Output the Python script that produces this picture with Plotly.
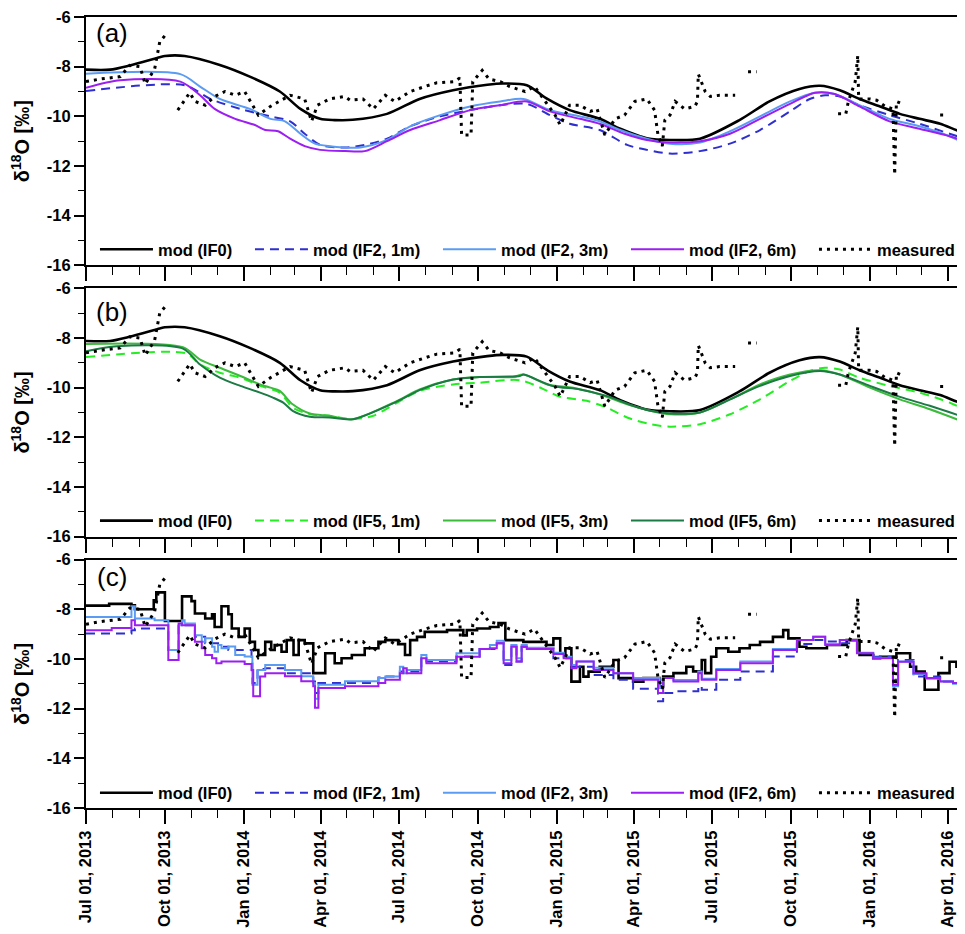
import pandas as pd
import plotly.graph_objects as go

START = "2013-07-01"
X_RANGE = ["2013-07-01", "2016-04-21"]

# ---------------- data: days since 2013-07-01, delta18O [permil] ----------------
# mod (IF0), smooth (panels a, b)
if0_days = [0, 28, 51, 86, 92, 115, 156, 191, 226, 250, 273, 290, 311, 351, 389, 428, 468, 486, 514,
            538, 564, 599, 623, 646, 654, 681, 716, 762, 797, 832, 856, 879, 902, 926, 949, 972, 996, 1019, 1025]
if0_vals = [-8.12, -8.12, -7.95, -7.62, -7.57, -7.57, -7.93, -8.4, -9.0, -9.7, -10.1, -10.15, -10.14, -9.9,
            -9.3, -8.95, -8.73, -8.68, -8.75, -9.3, -9.75, -10.1, -10.5, -10.8, -10.88, -10.95, -10.9, -10.15,
            -9.4, -8.9, -8.77, -8.95, -9.3, -9.6, -9.9, -10.1, -10.3, -10.6, -10.62]

# panel (a): IF2 runs
if2_1m_days = [0, 115, 145, 180, 215, 238, 255, 273, 302, 325, 351, 378, 413, 448, 483, 514, 541, 564, 599,
               631, 654, 681, 716, 751, 786, 821, 844, 862, 879, 902, 937, 972, 1007, 1025]
if2_1m_vals = [-8.98, -8.75, -9.3, -9.7, -10.0, -10.2, -10.7, -11.15, -11.25, -11.15, -10.9, -10.4, -10.0,
               -9.75, -9.55, -9.5, -9.95, -10.3, -10.55, -11.15, -11.35, -11.5, -11.4, -11.1, -10.55, -9.8,
               -9.3, -9.15, -9.2, -9.55, -9.95, -10.3, -10.7, -10.9]
if2_3m_days = [0, 110, 133, 156, 191, 215, 232, 250, 267, 284, 320, 351, 378, 413, 448, 483, 510, 541, 576,
               599, 623, 654, 681, 716, 751, 786, 821, 850, 873, 902, 937, 972, 1007, 1025]
if2_3m_vals = [-8.28, -8.3, -8.8, -9.3, -9.7, -10.1, -10.2, -10.7, -11.1, -11.2, -11.25, -10.95, -10.4, -9.95,
               -9.6, -9.4, -9.3, -9.75, -10.0, -10.2, -10.55, -10.9, -11.1, -11.05, -10.6, -10.0, -9.4, -9.05,
               -9.1, -9.55, -10.1, -10.4, -10.8, -11.1]
if2_6m_days = [0, 40, 110, 133, 150, 174, 197, 209, 224, 238, 255, 273, 302, 325, 351, 378, 413, 448, 483,
               514, 541, 576, 599, 628, 654, 681, 716, 751, 786, 821, 850, 873, 902, 937, 972, 1007, 1025]
if2_6m_vals = [-8.85, -8.55, -8.6, -9.15, -9.7, -10.1, -10.35, -10.55, -10.6, -10.9, -11.2, -11.35, -11.4,
               -11.4, -11.0, -10.55, -10.15, -9.75, -9.55, -9.4, -9.8, -10.1, -10.3, -10.7, -10.95, -11.05,
               -11.0, -10.7, -10.1, -9.5, -9.05, -9.1, -9.6, -10.2, -10.5, -10.8, -11.0]

# panel (b): IF5 runs
if5_1m_days = [0, 117, 133, 156, 180, 203, 226, 241, 261, 284, 311, 335, 363, 389, 428, 459, 506, 538, 553,
               584, 607, 631, 658, 681, 716, 751, 786, 821, 844, 862, 879, 902, 937, 972, 1007, 1025]
if5_1m_vals = [-8.77, -8.62, -9.07, -9.4, -9.6, -9.93, -10.2, -10.8, -11.07, -11.13, -11.27, -11.13, -10.6,
               -10.13, -9.87, -9.8, -9.7, -10.13, -10.37, -10.53, -10.8, -11.2, -11.47, -11.57, -11.47, -11.07,
               -10.47, -9.73, -9.33, -9.2, -9.27, -9.6, -9.93, -10.2, -10.6, -10.9]
if5_3m_days = [0, 113, 133, 156, 180, 203, 215, 226, 241, 261, 284, 311, 363, 389, 428, 459, 498, 510, 538,
               568, 599, 631, 658, 681, 716, 751, 786, 821, 856, 879, 914, 949, 984, 1025]
if5_3m_vals = [-8.24, -8.37, -8.87, -9.2, -9.53, -9.87, -10.0, -10.13, -10.67, -11.04, -11.13, -11.27, -10.53,
               -10.07, -9.67, -9.57, -9.57, -9.47, -9.87, -10.0, -10.27, -10.67, -10.93, -11.07, -11.0, -10.47,
               -9.87, -9.47, -9.3, -9.47, -10.0, -10.47, -10.87, -11.4]
if5_6m_days = [0, 36, 113, 133, 156, 180, 203, 218, 230, 241, 261, 284, 311, 363, 389, 428, 459, 506, 510,
               544, 576, 607, 638, 658, 681, 716, 751, 786, 821, 856, 879, 914, 949, 984, 1025]
if5_6m_vals = [-8.53, -8.33, -8.43, -9.07, -9.6, -9.93, -10.2, -10.4, -10.6, -10.93, -11.17, -11.2, -11.27,
               -10.55, -10.1, -9.67, -9.57, -9.53, -9.47, -9.93, -10.07, -10.33, -10.73, -10.93, -11.04, -11.0,
               -10.47, -9.93, -9.53, -9.33, -9.47, -9.93, -10.37, -10.73, -11.2]

# panel (c): stepped runs
c_if0_days = [0, 27, 53, 57, 79, 82, 92, 112, 123, 127, 139, 147, 150, 158, 166, 170, 178, 185, 191, 197,
              201, 209, 216, 220, 228, 234, 242, 248, 255, 265, 279, 290, 298, 310, 325, 341, 349, 364, 372,
              378, 386, 395, 421, 440, 444, 456, 471, 481, 489, 510, 537, 545, 553, 559, 566, 576, 580, 586,
              599, 615, 621, 638, 650, 669, 673, 685, 700, 708, 718, 722, 729, 735, 749, 762, 774, 786, 801,
              813, 819, 832, 840, 864, 887, 902, 918, 926, 945, 961, 968, 978, 994, 1007, 1015, 1025]
c_if0_vals = [-7.85, -7.78, -7.84, -8.0, -7.64, -7.32, -8.47, -7.48, -7.67, -8.17, -8.37, -8.2, -8.71, -7.88,
              -8.2, -8.77, -9.11, -8.77, -9.31, -9.64, -9.84, -9.31, -9.64, -9.44, -9.71, -9.24, -9.84, -9.24,
              -9.37, -10.57, -9.77, -10.17, -9.97, -9.84, -9.57, -9.31, -9.24, -9.4, -9.84, -9.24, -9.11,
              -8.91, -8.84, -9.05, -8.84, -8.77, -8.71, -8.55, -9.24, -9.31, -9.44, -9.17, -9.77, -9.57,
              -10.91, -10.31, -10.71, -10.51, -10.31, -10.04, -10.77, -10.91, -10.77, -11.11, -10.71, -10.57,
              -10.31, -10.5, -10.04, -10.57, -9.91, -9.57, -9.71, -9.57, -9.44, -9.31, -9.11, -8.84, -9.17,
              -9.51, -9.57, -9.44, -9.24, -9.84, -9.97, -9.91, -9.77, -10.31, -10.51, -11.24, -10.57, -10.11,
              -10.31, -10.31]
c_1m_days = [0, 53, 57, 96, 108, 127, 139, 154, 166, 193, 194, 200, 209, 232, 265, 267, 271, 341, 349, 366,
             391, 397, 432, 459, 479, 487, 496, 502, 508, 514, 545, 566, 592, 615, 638, 667, 673, 685, 714,
             718, 735, 763, 801, 829, 848, 862, 879, 899, 918, 941, 947, 965, 996, 1025]
c_1m_vals = [-8.97, -8.84, -8.77, -9.64, -8.64, -9.11, -9.37, -9.51, -9.64, -9.91, -10.97, -10.4, -10.37,
             -10.57, -10.91, -11.37, -10.97, -10.75, -10.71, -10.5, -9.97, -10.1, -9.9, -9.6, -9.37, -10.24,
             -9.51, -10.1, -9.51, -9.57, -9.97, -10.31, -10.64, -10.84, -11.2, -11.7, -11.37, -11.3, -11.1,
             -11.24, -10.84, -10.5, -9.9, -9.4, -9.24, -9.3, -9.37, -9.77, -9.91, -10.84, -10.04, -10.71,
             -10.91, -11.0]
c_3m_days = [0, 53, 57, 80, 96, 108, 112, 115, 127, 135, 139, 147, 150, 154, 158, 166, 174, 185, 194, 200,
             209, 232, 251, 265, 267, 271, 302, 341, 349, 366, 370, 374, 391, 397, 432, 459, 471, 479, 487,
             496, 502, 508, 514, 545, 557, 566, 572, 592, 615, 638, 669, 673, 685, 714, 718, 735, 763, 801,
             829, 848, 862, 879, 899, 918, 941, 947, 965, 980, 996, 1011, 1025]
c_3m_vals = [-8.31, -7.88, -8.37, -8.44, -9.64, -8.64, -8.44, -8.57, -9.04, -9.31, -9.17, -9.51, -9.71,
             -9.44, -9.57, -9.5, -9.84, -9.9, -11.04, -10.44, -10.24, -10.44, -10.7, -10.97, -11.6, -11.04,
             -10.9, -10.77, -10.71, -10.31, -10.57, -10.44, -9.84, -10.04, -9.77, -9.6, -9.44, -9.27, -10.04,
             -9.44, -9.97, -9.44, -9.55, -9.75, -9.91, -10.24, -10.1, -10.35, -10.57, -10.77, -11.17, -10.77,
             -10.85, -10.5, -10.8, -10.4, -10.1, -9.6, -9.24, -9.11, -9.4, -9.24, -9.75, -9.95, -11.1, -10.1,
             -10.6, -10.8, -10.9, -11.0, -11.05]
c_6m_days = [0, 30, 53, 57, 96, 108, 112, 127, 135, 139, 147, 152, 158, 185, 193, 195, 203, 209, 232, 251,
             265, 267, 271, 302, 341, 349, 366, 370, 374, 391, 397, 432, 459, 471, 479, 487, 496, 502, 508,
             514, 545, 557, 566, 572, 592, 615, 638, 667, 673, 685, 714, 718, 735, 763, 801, 829, 848, 862,
             879, 899, 918, 941, 947, 965, 980, 996, 1011, 1025]
c_6m_vals = [-8.84, -8.75, -8.44, -8.64, -10.04, -8.57, -8.64, -9.31, -9.57, -9.84, -9.97, -10.17, -10.1,
             -10.2, -10.44, -11.5, -10.71, -10.57, -10.7, -10.9, -11.1, -11.96, -11.17, -11.1, -10.97, -10.84,
             -10.57, -10.37, -10.57, -9.97, -10.17, -9.91, -9.6, -9.57, -9.37, -10.17, -9.51, -10.1, -9.51,
             -9.6, -9.8, -9.97, -10.37, -10.1, -10.44, -10.57, -10.84, -11.37, -10.77, -10.91, -10.57, -10.84,
             -10.44, -10.17, -9.64, -9.24, -9.11, -9.44, -9.24, -9.77, -9.97, -11.04, -10.11, -10.57, -10.77,
             -10.91, -10.97, -11.0]

# measured (same in every panel), None = gap in record
meas_days = [0, 16, 40, 51, 63, 69, 80, 86, 92, 99, 107, 121, 127, 139, 150, 162, 174, 185, 201, 215, 238,
             255, 263, 270, 284, 302, 308, 323, 335, 349, 360, 378, 395, 409, 430, 436, 438, 449, 451, 462,
             470, 483, 494, 512, 523, 535, 547, 553, 564, 576, 588, 596, 605, 617, 628, 640, 654, 663, 667,
             672, 675, 681, 687, 698, 710, 713, 714, 722, 728, 739, 757, 765, 772, 782, 830, 877, 886, 889,
             893, 897, 900, 901, 914, 922, 932, 941, 943, 945, 952, 975, 996, 1005]
meas_vals = [-8.6, -8.5, -8.4, -7.95, -8.0, -8.7, -8.1, -7.0, -6.75, None, -9.75, -9.05, -9.4, -9.55, -9.2,
             -9.0, -9.15, -9.0, -9.95, -9.6, -9.15, -9.3, -10.2, -9.55, -9.3, -9.2, -9.35, -9.3, -9.7, -9.15,
             -9.4, -9.0, -8.8, -8.65, -8.6, -8.45, -10.75, -10.75, -8.6, -8.15, -8.5, -8.6, -8.8, -9.0, -8.8,
             -9.4, -9.95, -10.35, -9.55, -9.55, -9.8, -9.7, -10.75, -10.1, -9.95, -9.4, -9.3, -9.75, -10.75,
             -11.2, -10.15, -9.95, -9.4, -9.7, -9.6, -9.4, -8.3, -9.0, -9.2, -9.15, -9.15, None, -8.2, -8.2,
             None, -9.9, -9.9, -9.4, -9.0, -8.6, -7.55, -9.3, -9.3, -9.35, -9.6, -9.7, -12.35, -9.4, -9.5,
             None, -9.95, -9.95]

Y_TICKS = [-16, -14, -12, -10, -8, -6]


def to_dates(days):
    base = pd.Timestamp(START)
    return [base + pd.Timedelta(days=int(d)) for d in days]


FONT = "Liberation Sans, Arial, sans-serif"
BLACK = "#000000"
NAVY = "#2f2fd0"
LBLUE = "#5b9cf2"
PURPLE = "#9a1ff0"
G1 = "#22ee22"
G3 = "#3cba3c"
G6 = "#1c7a44"

fig = go.Figure()


def add(days, vals, name, color, width, dash, xa, ya, leg, lw, shape="spline"):
    fig.add_trace(go.Scatter(
        x=to_dates(days), y=vals, name=name, mode="lines",
        line=dict(color=color, width=width, dash=dash, shape=shape,
                  **({"smoothing": 0.8} if shape == "spline" else {})),
        xaxis=xa, yaxis=ya, legend=leg, legendwidth=lw, connectgaps=False,
        hoverinfo="skip"))


DOT = "3px,5px"
DASH = "9px,6px"

# panel (a)
add(if0_days, if0_vals, "mod (IF0)", BLACK, 2.6, "solid", "x", "y", "legend", 87)
add(if2_1m_days, if2_1m_vals, "mod (IF2, 1m)", NAVY, 2, DASH, "x", "y", "legend", 120)
add(if2_3m_days, if2_3m_vals, "mod (IF2, 3m)", LBLUE, 2, "solid", "x", "y", "legend", 120)
add(if2_6m_days, if2_6m_vals, "mod (IF2, 6m)", PURPLE, 2, "solid", "x", "y", "legend", 120)
add(meas_days, meas_vals, "measured", BLACK, 3, DOT, "x", "y", "legend", 80, "linear")
# panel (b)
add(if0_days, if0_vals, "mod (IF0)", BLACK, 2.6, "solid", "x2", "y2", "legend2", 87)
add(if5_1m_days, if5_1m_vals, "mod (IF5, 1m)", G1, 2, DASH, "x2", "y2", "legend2", 120)
add(if5_3m_days, if5_3m_vals, "mod (IF5, 3m)", G3, 2, "solid", "x2", "y2", "legend2", 120)
add(if5_6m_days, if5_6m_vals, "mod (IF5, 6m)", G6, 2, "solid", "x2", "y2", "legend2", 120)
add(meas_days, meas_vals, "measured", BLACK, 3, DOT, "x2", "y2", "legend2", 80, "linear")
# panel (c)
add(c_if0_days, c_if0_vals, "mod (IF0)", BLACK, 2.6, "solid", "x3", "y3", "legend3", 87, "hv")
add(c_1m_days, c_1m_vals, "mod (IF2, 1m)", NAVY, 2, DASH, "x3", "y3", "legend3", 120, "hv")
add(c_3m_days, c_3m_vals, "mod (IF2, 3m)", LBLUE, 2, "solid", "x3", "y3", "legend3", 120, "hv")
add(c_6m_days, c_6m_vals, "mod (IF2, 6m)", PURPLE, 2, "solid", "x3", "y3", "legend3", 120, "hv")
add(meas_days, meas_vals, "measured", BLACK, 3, DOT, "x3", "y3", "legend3", 80, "linear")

tickfont = dict(family=FONT, size=16.5, color="black", weight="bold")


def xaxis(anchor, labels):
    return dict(
        anchor=anchor, domain=[0, 1], range=X_RANGE, type="date",
        tick0="2013-07-01", dtick="M3", tickformat="%b %d, %Y", tickangle=-90,
        showticklabels=labels, ticks="outside", ticklen=14, tickwidth=1.6, tickcolor="black",
        minor=dict(dtick="M1", ticks="outside", ticklen=8, tickwidth=1.4, tickcolor="black", showgrid=False),
        showline=True, linecolor="black", linewidth=2, mirror=True,
        showgrid=False, zeroline=False, tickfont=tickfont, ticklabeloverflow="allow")


def yaxis(anchor, dom):
    return dict(
        anchor=anchor, domain=dom, range=[-16, -6], tickvals=Y_TICKS,
        ticktext=[str(v) for v in Y_TICKS],
        ticks="outside", ticklen=10, tickwidth=1.6, tickcolor="black",
        minor=dict(dtick=1, ticks="outside", ticklen=6, tickwidth=1.4, tickcolor="black", showgrid=False),
        showline=True, linecolor="black", linewidth=2, mirror=False,
        showgrid=False, zeroline=False, tickfont=tickfont, ticklabeloverflow="allow",
        title=dict(text="δ<sup>18</sup>O [‰]", standoff=12,
                   font=dict(family=FONT, size=20, color="black", weight="bold")))


def legend(y):
    return dict(orientation="h", x=0.0102, y=y, xanchor="left", yanchor="middle",
                bgcolor="rgba(0,0,0,0)", itemwidth=53,
                font=dict(family=FONT, size=16.5, color="black", weight="bold"))


# page body adds an 8px offset; size the figure so the plot lands where the reference has it
fig.update_layout(
    width=957, height=926,
    margin=dict(l=78, r=0, t=7, b=126),
    paper_bgcolor="white", plot_bgcolor="white",
    showlegend=True,
    xaxis=xaxis("y", False), yaxis=yaxis("x", [0.686, 1.0]),
    xaxis2=xaxis("y2", False), yaxis2=yaxis("x2", [0.343, 0.657]),
    xaxis3=xaxis("y3", True), yaxis3=yaxis("x3", [0.0, 0.314]),
    legend=legend(0.706), legend2=legend(0.363), legend3=legend(0.019),
    annotations=[
        dict(text=t, x=0.03, y=yy, xref="paper", yref="paper", showarrow=False,
             xanchor="center", yanchor="middle",
             font=dict(family=FONT, size=26, color="black"))
        for t, yy in [("(a)", 0.98), ("(b)", 0.6265), ("(c)", 0.2923)]
    ],
)
fig.update_xaxes(matches="x")

fig.write_html("out.html")
